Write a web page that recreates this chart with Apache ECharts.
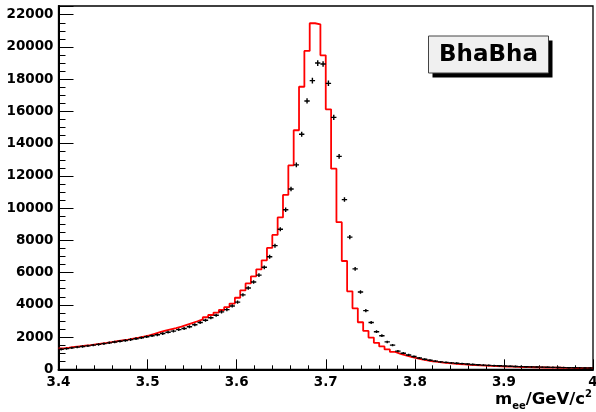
<!DOCTYPE html>
<html>
<head>
<meta charset="utf-8">
<script src="https://cdn.jsdelivr.net/npm/echarts@6/dist/echarts.min.js"></script>
<style>
html,body{margin:0;padding:0;background:#fff;}
#chart{width:596px;height:412px;}
</style>
</head>
<body>
<div id="chart"></div>
<script>
// Histogram definition: 100 bins from 3.4 to 4.0 GeV/c^2
const binLow = 3.4;
const binWidth = 0.006;
const nBins = 100;

// Red histogram (MC) bin contents
const mcCounts = [
  1300, 1340, 1385, 1425, 1465, 1505, 1550, 1595, 1640, 1690,
  1740, 1790, 1840, 1900, 1960, 2030, 2100, 2200, 2300, 2400,
  2480, 2560, 2650, 2760, 2870, 2980, 3100, 3230, 3370, 3520,
  3680, 3860, 4080, 4440, 4900, 5330, 5770, 6200, 6760, 7530,
  8340, 9420, 10820, 12650, 14830, 17530, 19750, 21470, 21400, 19480,
  16130, 12450, 9130, 6720, 4840, 3780, 2920, 2380, 1970, 1640,
  1420, 1230, 1080, 960, 860, 770, 690, 620, 560, 500,
  455, 415, 380, 350, 325, 300, 280, 260, 240, 225,
  210, 195, 182, 170, 160, 150, 142, 134, 127, 120,
  113, 107, 101, 96, 91, 86, 82, 78, 74, 70
];

// Black data points bin contents
const dataCounts = [
  1240, 1285, 1330, 1375, 1415, 1455, 1500, 1545, 1590, 1640,
  1690, 1740, 1790, 1840, 1900, 1960, 2020, 2080, 2140, 2220,
  2300, 2370, 2460, 2530, 2640, 2760, 2900, 3040, 3200, 3350,
  3560, 3700, 3930, 4170, 4620, 5040, 5420, 5840, 6330, 6980,
  7670, 8690, 9900, 11190, 12680, 14580, 16650, 17910, 19000, 18940,
  17740, 15630, 13210, 10530, 8200, 6230, 4800, 3640, 2900, 2330,
  2085, 1700, 1500, 1130, 1000, 890, 790, 700, 625, 560,
  505, 460, 430, 400, 375, 350, 325, 300, 280, 262,
  245, 230, 216, 203, 190, 178, 168, 158, 149, 140,
  132, 125, 118, 112, 106, 100, 95, 90, 85, 80
];

const xMin = 3.4, xMax = 4.0, xInterval = 0.1;
const yMin = 0, yMax = 22540, yInterval = 2000;
const legendText = 'BhaBha';

const FONT = 'DejaVu Sans';

// step outline: points at bin low edges + final edge
const mcLine = mcCounts.map((v, i) => [binLow + i * binWidth, v]);
mcLine.push([binLow + nBins * binWidth, mcCounts[nBins - 1]]);

const dataPts = dataCounts.map((v, i) => [binLow + (i + 0.5) * binWidth, v, Math.sqrt(v)]);

const chart = echarts.init(document.getElementById('chart'), null, {renderer: 'canvas'});
chart.setOption({
  animation: false,
  backgroundColor: '#ffffff',
  grid: {
    left: 58.5, right: 3, top: 6, bottom: 42.7,
    outerBoundsMode: 'none', containLabel: false,
    show: true, borderColor: '#000', borderWidth: 1.3, backgroundColor: 'transparent'
  },
  xAxis: {
    type: 'value', min: xMin, max: xMax, interval: xInterval,
    axisLine: {show: true, onZero: false, lineStyle: {color: '#000', width: 2}},
    axisTick: {show: true, inside: true, length: 10, lineStyle: {color: '#000', width: 1}},
    minorTick: {show: true, splitNumber: 5, length: 4, lineStyle: {color: '#000', width: 1}},
    axisLabel: {
      color: '#000', fontFamily: FONT, fontWeight: 'bold', fontSize: 13.5, margin: 6,
      hideOverlap: false,
      formatter: v => (Math.round(v * 10) / 10).toString()
    },
    splitLine: {show: false}
  },
  yAxis: {
    type: 'value', min: yMin, max: yMax, interval: yInterval,
    axisLine: {show: true, onZero: false, lineStyle: {color: '#000', width: 2}},
    axisTick: {show: true, inside: true, length: 15, lineStyle: {color: '#000', width: 1}},
    minorTick: {show: true, splitNumber: 4, length: 7, lineStyle: {color: '#000', width: 1}},
    axisLabel: {
      color: '#000', fontFamily: FONT, fontWeight: 'bold', fontSize: 13.5, margin: 5,
      formatter: v => (Math.round(v) % yInterval === 0 ? String(Math.round(v)) : '')
    },
    splitLine: {show: false}
  },
  series: [
    {
      type: 'line', data: mcLine, step: 'end', symbol: 'none',
      lineStyle: {color: '#ff0000', width: 1.8}, z: 2, clip: true
    },
    {
      type: 'custom', data: dataPts, z: 3, clip: true,
      renderItem: function (params, api) {
        const x = api.value(0), y = api.value(1), e = api.value(2);
        const pL = api.coord([x - binWidth / 2, y]);
        const pR = api.coord([x + binWidth / 2, y]);
        const pT = api.coord([x, y + e]);
        const pB = api.coord([x, y - e]);
        return {
          type: 'group',
          children: [
            {type: 'line', shape: {x1: pL[0], y1: pL[1], x2: pR[0], y2: pR[1]}, style: {stroke: '#000', lineWidth: 1.4}},
            {type: 'line', shape: {x1: pT[0], y1: pT[1] - 0.6, x2: pB[0], y2: pB[1] + 0.6}, style: {stroke: '#000', lineWidth: 1.4}}
          ]
        };
      }
    }
  ],
  graphic: [
    {type: 'rect', shape: {x: 432.5, y: 40.5, width: 120, height: 37}, style: {fill: '#000'}, z: 10},
    {type: 'rect', shape: {x: 428.5, y: 36, width: 120, height: 37}, style: {fill: '#f0f0f0', stroke: '#444', lineWidth: 1}, z: 11},
    {type: 'text', x: 488.5, y: 55.5, z: 12,
      style: {text: legendText, fill: '#000', font: 'bold 23px "DejaVu Sans"', textAlign: 'center', textVerticalAlign: 'middle'}},
    {type: 'text', right: 4, bottom: 1, z: 12,
      style: {
        text: '{m|m}{s|ee}{m|/GeV/c}{p|2}',
        fill: '#000',
        rich: {
          m: {fontFamily: FONT, fontWeight: 'bold', fontSize: 16.5, lineHeight: 22, verticalAlign: 'middle', fill: '#000'},
          s: {fontFamily: FONT, fontWeight: 'bold', fontSize: 10, lineHeight: 12, verticalAlign: 'bottom', fill: '#000'},
          p: {fontFamily: FONT, fontWeight: 'bold', fontSize: 10, lineHeight: 12, verticalAlign: 'top', fill: '#000'}
        }
      }}
  ]
});
</script>
</body>
</html>
